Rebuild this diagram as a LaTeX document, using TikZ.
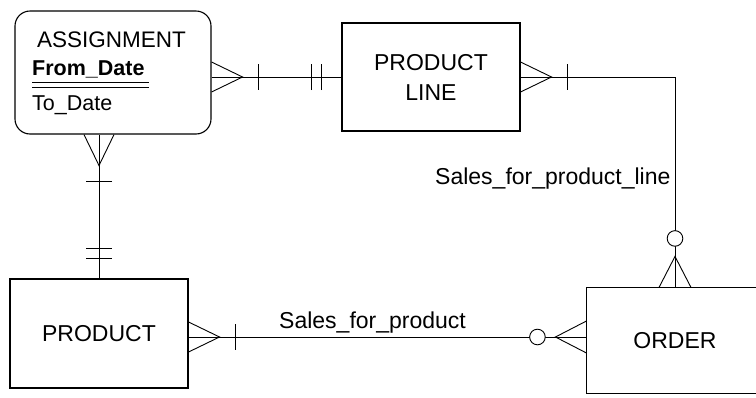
\documentclass[tikz,border=0pt]{standalone}
\usepackage{fontspec}
\setmainfont{Liberation Sans}
\usetikzlibrary{calc}
\tikzset{
  ent/.style={draw, line width=1.1pt, inner sep=0pt, align=center,
              font=\fontsize{23}{30}\selectfont},
  lbl/.style={inner sep=0pt, anchor=base west, font=\fontsize{23}{28}\selectfont},
  attr/.style={inner sep=0pt, anchor=base west},
  conn/.style={line width=0.9pt},
  crowone/.pic={\draw[conn] (0,-15)--(31,0)--(0,15); \draw[conn] (47,-13)--(47,13);},
  twoticks/.pic={\draw[conn] (20,-13)--(20,13) (30,-13)--(30,13);},
  crowzero/.pic={\draw[conn] (0,-16)--(31,0)--(0,16); \draw[conn,fill=white] (49,0) circle (7.8);}
}
\begin{document}
\begin{tikzpicture}[x=1pt,y=-1pt]
\useasboundingbox (0,0) rectangle (756,397);
\clip (0,0) rectangle (756,397);
\fill[white] (0,0) rectangle (756,397);

% entities
\node[ent, rounded corners=15pt, minimum width=196pt, minimum height=123pt] (assign) at (113,72.5) {};
\node[attr, font=\fontsize{22.5}{26}\selectfont] (asgname) at (37,47) {ASSIGNMENT};
\node[attr, font=\fontsize{21.5}{26}\selectfont\bfseries] (asgkey) at (32,75) {From\_Date};
\node[attr, font=\fontsize{21.5}{26}\selectfont] (asgattr) at (32,110) {To\_Date};
\draw[line width=0.9pt] (32,82) -- (149,82) (32,87) -- (149,87);

\node[ent, minimum width=178pt, minimum height=108pt] (pline) at (431,77) {PRODUCT\\LINE};
\node[ent, minimum width=178pt, minimum height=109pt] (prod) at (99,333.5) {PRODUCT};
\node[ent, draw=none, minimum width=176pt, minimum height=105pt] (order) at (675,340.5) {ORDER};
\draw[line width=1.1pt] ($(order.north east)+(30,0)$) -- (order.north west)
  -- (order.south west) -- ($(order.south east)+(30,0)$);

% connectors
\draw[conn] (assign.east |- pline.west) -- (pline.west);
\path (assign.east |- pline.west) pic{crowone};
\path (pline.west) pic[rotate=180]{twoticks};

\draw[conn] (pline.east) -| (order.north);
\path (pline.east) pic{crowone};
\path (order.north) pic[rotate=90]{crowzero};

\draw[conn] (prod.north) -- (prod.north |- assign.south);
\path (prod.north |- assign.south) pic[rotate=-90]{crowone};
\path (prod.north) pic[rotate=90]{twoticks};

\coordinate (pe) at ($(prod.east)+(0,3.5)$);
\draw[conn] (pe) -- (pe -| order.west);
\path (pe) pic{crowone};
\path (pe -| order.west) pic[rotate=180]{crowzero};

% labels
\node[lbl] (l1) at (435,184) {Sales\_for\_product\_line};
\node[lbl] (l2) at (279,328) {Sales\_for\_product};
\end{tikzpicture}
\end{document}
